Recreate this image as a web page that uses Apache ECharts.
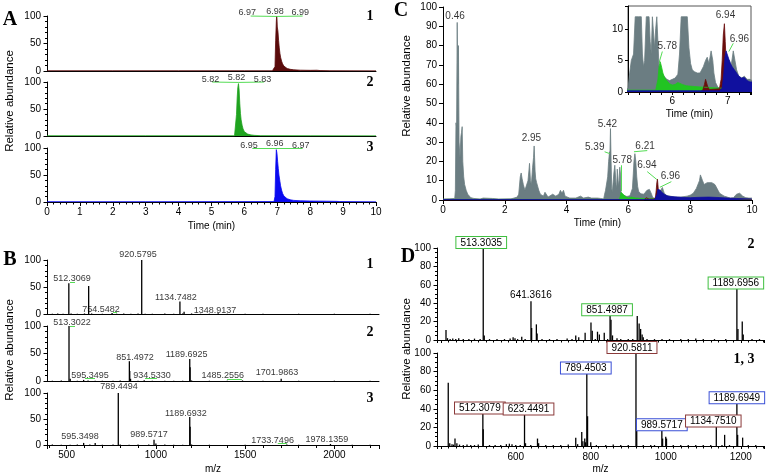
<!DOCTYPE html>
<html><head><meta charset="utf-8">
<script src="https://cdn.jsdelivr.net/npm/echarts@6/dist/echarts.min.js"></script>
<style>html,body{margin:0;padding:0;background:#fff}#c{width:768px;height:475px}</style>
</head><body><div id="c"></div>
<script>
// ---------- DATA ----------
// Panel A: extracted ion chromatograms [time (min), relative abundance]
const chromA1 = [[0,0.4],[2,0.4],[4,0.4],[6,0.4],[6.85,0.4],[6.9,1],[6.93,8],[6.95,55],[6.97,90],[6.98,100],[6.99,95],[7.0,80],[7.02,72],[7.04,55],[7.06,42],[7.08,32],[7.1,25],[7.13,18],[7.16,13],[7.2,9],[7.25,6],[7.3,4.5],[7.4,3],[7.5,2.2],[7.7,1.5],[8.0,1.2],[8.2,1.4],[8.3,0.8],[8.6,0.5],[10,0.4]];
const chromA2 = [[0,0.4],[3,0.4],[5.7,0.4],[5.74,3],[5.76,40],[5.78,70],[5.8,90],[5.82,97],[5.84,85],[5.86,60],[5.88,42],[5.9,30],[5.93,20],[5.96,13],[6.0,8],[6.05,5],[6.1,3.5],[6.2,2],[6.3,1.2],[6.5,0.6],[8,0.4],[10,0.4]];
const chromA3 = [[0,0.5],[3,0.5],[6.9,0.8],[6.93,10],[6.95,60],[6.97,97],[6.99,90],[7.01,75],[7.03,62],[7.05,50],[7.08,38],[7.1,30],[7.13,22],[7.16,16],[7.2,11],[7.25,8],[7.3,6],[7.4,4],[7.5,3],[7.7,2.2],[8,1.8],[8.5,1.5],[8.8,1.2],[8.9,0.8],[10,0.5]];
const peakLabA1 = [[6.09,106.7,'6.97'],[6.93,108.5,'6.98'],[7.70,105.5,'6.99']];
const peakLabA2 = [[4.97,105.5,'5.82'],[5.76,108.7,'5.82'],[6.55,105.5,'5.83']];
const peakLabA3 = [[6.14,105,'6.95'],[6.92,108.7,'6.96'],[7.71,105,'6.97']];
const leadA1 = [[6.19,99.9,6.98,99.2],[6.98,99.2,7.77,99.9]];
const leadA2 = [[5.02,99.9,5.81,99.2],[5.81,99.2,6.60,99.9]];
const leadA3 = [[6.24,99.5,6.96,98.8],[6.96,98.8,7.77,99.5]];

// Panel C: total ion chromatogram (grey) and EICs
const ticC = [[0,0.5],[0.2,0.6],[0.38,0.8],[0.4,5],[0.42,40],[0.44,38],[0.46,92],[0.48,60],[0.5,80],[0.52,30],[0.55,22],[0.58,33],[0.6,35],[0.62,38],[0.64,20],[0.67,12],[0.7,8],[0.75,5],[0.8,3],[0.85,2],[0.9,1.2],[1.0,0.8],[1.2,0.5],[1.3,1],[1.35,0.5],[1.6,0.8],[1.8,0.5],[2.2,0.6],[2.3,1],[2.4,1.5],[2.45,3],[2.5,12],[2.53,14],[2.56,11],[2.6,8],[2.65,5],[2.7,6],[2.75,10],[2.78,15],[2.8,19],[2.83,10],[2.86,8],[2.9,17],[2.93,22],[2.95,28],[2.98,15],[3.0,11],[3.03,9],[3.06,10],[3.1,5],[3.15,3],[3.2,2],[3.25,2],[3.3,4],[3.35,3],[3.4,1.5],[3.45,1],[3.55,3],[3.6,4],[3.65,2],[3.7,1],[3.75,3],[3.8,5],[3.85,3.5],[3.9,5],[3.95,2],[4.0,1.5],[4.1,1],[4.3,1],[4.45,2],[4.5,3],[4.55,1],[4.7,1.5],[4.8,1],[5.0,1],[5.1,0.8],[5.2,0.5],[5.23,3],[5.26,5],[5.3,6],[5.33,12],[5.36,20],[5.39,25],[5.4,22],[5.42,37],[5.44,20],[5.46,6],[5.48,4],[5.5,5],[5.53,14],[5.56,18],[5.58,17],[5.6,8],[5.62,6],[5.64,16],[5.66,15],[5.68,7],[5.7,10],[5.72,17],[5.74,14],[5.76,4],[5.78,2],[5.8,3],[5.82,3],[5.85,2.5],[5.9,2],[5.95,1.8],[6.0,2],[6.05,2.2],[6.1,2.8],[6.13,6],[6.16,14],[6.18,20],[6.21,24],[6.24,20],[6.27,12],[6.3,7],[6.33,4.5],[6.36,3.5],[6.4,3.2],[6.45,3],[6.5,3],[6.53,3.5],[6.56,4],[6.6,5],[6.63,5.5],[6.66,4.5],[6.68,5.5],[6.7,6.5],[6.73,5],[6.75,3],[6.78,1.5],[6.82,0.8],[6.86,0.5],[6.9,0.8],[6.95,2],[6.98,3],[7.0,4],[7.03,5],[7.06,4],[7.1,6.5],[7.13,5],[7.16,3.5],[7.2,2.5],[7.25,2.2],[7.3,2.5],[7.35,2],[7.4,2],[7.5,1.5],[7.7,1.5],[7.9,2],[8.0,2.5],[8.1,3.5],[8.2,6],[8.3,10],[8.33,13],[8.36,12],[8.4,10],[8.45,8],[8.5,8],[8.55,9],[8.6,9],[8.7,9],[8.8,8],[8.85,7],[8.9,5],[8.95,3.5],[9.0,2.5],[9.1,2],[9.2,1.5],[9.3,1],[9.4,1.2],[9.45,2],[9.5,3],[9.55,3.8],[9.6,3.5],[9.65,3],[9.7,2],[9.8,1.2],[9.9,1],[10,1]];
const eicC2 = [[0,0.3],[5.7,0.3],[5.72,0.6],[5.74,2],[5.76,4],[5.78,4.8],[5.8,4.2],[5.83,3],[5.86,2.3],[5.9,1.8],[5.95,1.3],[6.0,1.1],[6.05,1.2],[6.1,1.5],[6.13,1.6],[6.18,1.2],[6.25,1],[6.35,0.9],[6.5,0.8],[6.7,0.7],[6.9,0.6],[7.0,0.4],[7.5,0.3],[8,0.5],[9,0.4],[10,0.3]];
const eicC1 = [[0,0],[6.5,0],[6.55,0.3],[6.58,1.2],[6.6,2],[6.62,1.8],[6.64,0.8],[6.67,0.4],[6.85,0.5],[6.88,2],[6.9,5],[6.92,9],[6.94,10.8],[6.955,8],[6.97,5],[6.99,2],[7.02,0.8],[7.1,0.5],[7.5,0.4],[8.0,0.5],[8.5,0.6],[9,0.4],[9.5,0.5],[10,0.3]];
const eicC3 = [[0,0.2],[6.85,0.2],[6.9,0.6],[6.93,3],[6.95,5.5],[6.97,6.5],[6.99,6.2],[7.02,5.2],[7.05,4.5],[7.08,4],[7.12,3.5],[7.16,3],[7.2,2.5],[7.25,2.2],[7.3,2.3],[7.35,1.8],[7.4,1.6],[7.6,1.5],[7.8,1.3],[8.0,1.2],[8.3,1.4],[8.6,1.5],[8.9,1.3],[9.2,1.0],[9.5,0.8],[10,0.5]];
const peakLabC = [[0.39,95,'0.46'],[2.86,32,'2.95'],[5.32,39.4,'5.42'],[4.91,27.1,'5.39'],[6.54,28,'6.21'],[5.80,20.4,'5.78'],[6.60,17.8,'6.94'],[7.36,12.5,'6.96']];
const leadC = [[5.23,25,5.40,24],[6.18,25,6.61,25.6],[5.77,18,5.77,4.6],[6.61,14.7,6.92,10.6],[7.02,6.6,7.39,9.5]];
const peakLabCI = [[6.96,12.2,'6.94'],[7.21,8.4,'6.96'],[5.91,7.2,'5.78']];
const leadCI = [[7.02,6.4,7.10,7.7],[5.76,4.6,5.82,6.4]];
const insetClip = 11.9;

// Panel B: MS spectra [m/z, relative abundance]
const specB1 = [[420,0.5],[450,1],[480,0.5],[512.3,57],[525,1],[560,0.5],[600,1],[623.4,52],[640,1],[700,0.5],[754.5,2],[780,0.5],[820,1],[860,0.5],[900,1],[920.6,100],[940,0.5],[980,0.5],[1050,1],[1100,0.5],[1134.7,23],[1150,1],[1158,4],[1200,1],[1250,0.5],[1300,0.5],[1348.9,1.5],[1400,0.5],[1500,0.5],[1600,0.5],[1800,0.5],[2000,0.5],[2200,0.5]];
const specB2 = [[420,0.5],[470,1],[513.3,100],[520,4],[560,0.5],[595.3,2],[620,1],[660,0.5],[700,0.5],[760,0.5],[800,1],[851.5,36],[853.5,18],[858,4],[900,0.5],[934.5,1.5],[980,0.5],[1050,0.5],[1100,0.5],[1150,0.5],[1189.7,40],[1191.7,25],[1200,1],[1300,0.5],[1400,0.5],[1485.3,1],[1600,0.5],[1702,4],[1800,0.5],[2000,0.5],[2200,0.5]];
const specB3 = [[420,1],[470,0.5],[520,0.5],[560,1],[595.3,4],[630,1],[660,4],[700,0.5],[760,1],[789.4,100],[800,1],[850,0.5],[900,1],[960,1],[989.6,10],[1000,3],[1050,1],[1100,0.5],[1150,0.5],[1189.7,54],[1191.7,35],[1200,1],[1300,0.5],[1500,0.5],[1733.7,1],[1800,0.5],[1978.1,2],[2100,0.5],[2200,0.5]];
const labB1 = [[899.5,110.6,'920.5795'],[530,66,'512.3069'],[692,7.4,'754.5482'],[1112,30,'1134.7482'],[1331,6,'1348.9137']];
const labB2 = [[530,107,'513.3022'],[631,10.4,'595.3495'],[883,43.6,'851.4972'],[978,10.4,'934.5330'],[1172,48.5,'1189.6925'],[1375,10.4,'1485.2556'],[1678,15.3,'1701.9863']];
const labB3 = [[793,112,'789.4494'],[575,16,'595.3498'],[961,20.5,'989.5717'],[1168,61.5,'1189.6932'],[1654,8.8,'1733.7496'],[1958,11,'1978.1359']];
const markB1 = [[519,58,547,58],[760,2.4,782,2.4]];
const markB2 = [[519,99.5,547,99.5],[603,5.5,659,5.5],[939,5,1006,5],[1398,3,1482,3]];
const markB3 = [[1683,3.7,1734,3.7]];

// Panel D: MS/MS spectra [m/z, relative abundance]
const specD1 = [[414,11],[418,2],[425,1],[432,1.5],[440,1],[448,2],[460,1],[475,1],[490,1.5],[505,1],[513.3,100],[516,5],[530,1],[550,1],[570,1],[585,1.5],[593,3],[598,2],[605,1],[616,3.5],[625,1],[640.6,42],[642.4,13],[655,17],[657,7],[670,1],[690,1],[710,1],[737,1.5],[750,1],[760,5],[768,3],[785,8],[800.6,19],[804,10],[812,1],[818,9],[823,6],[836,8],[845,1],[851.5,27],[854,22],[858,5],[870,2],[880,1],[900,1],[912,1],[924,26],[929,18],[933,12],[937,6],[940,3],[950,1],[970,1],[990,1],[1010,1],[1040,1],[1060,1],[1080,1.5],[1100,1],[1130,1],[1160,1],[1189.7,56],[1192.5,12],[1204,20],[1206.6,6],[1230,1],[1250,1]];
const specD2 = [[420,68],[424,3],[430,2],[434,1.5],[438,8],[443,3],[450,1.5],[460,1],[470,1.5],[480,1],[490,1],[500,1.5],[512.3,35],[513.3,18],[530,1],[545,1],[560,1],[575,2],[583,2.5],[590,2],[600,1],[612,1],[623.4,34],[626,3],[640,1],[658,8],[661,3],[680,1],[700,1],[720,1],[740,1.5],[760,9],[765,2],[776,15],[779,5],[784,8],[786,4],[789.5,78],[791.5,32],[800,4],[815,1],[840,1],[860,1.5],[880,1],[900,1],[920.6,100],[922.6,18],[940,1],[960,1],[970,1],[989.6,17],[991.6,8],[1000,10],[1002,8],[1020,1],[1040,1],[1060,1],[1080,1],[1100,1],[1120,1],[1134.8,21],[1150,1],[1157,12],[1170,1],[1189.7,46],[1191.7,12],[1205,9],[1220,1],[1240,1]];
// [m/z of peak, label text, box colour key, x offset]
const labD1 = [[513.3,'513.3035','g',-2],[640.6,'641.3616','',0],[851.5,'851.4987','g',-3],[1189.7,'1189.6956','g',-1]];
const labD2 = [[512.3,'512.3079','r',-3],[623.4,'623.4491','r',4],[789.5,'789.4503','b',-1],[920.6,'920.5811','r',-4],[989.6,'989.5717','b',0],[1134.8,'1134.7510','r',-3],[1189.7,'1189.6949','b',0]];

// ---------- STYLE ----------
const SANS = 'Liberation Sans, Arial, sans-serif';
const SERIF = 'Liberation Serif, Times New Roman, serif';
const LEAD = '#55dd55';
const BOX = {g:'#3fbf3f', r:'#8b3a3a', b:'#3a4fd6'};
const COL = {a1:'#5a0b0b', a2:'#1fa31f', a3:'#0a0af0', gray:'#6b7d82', cg:'#22c422', cr:'#6a0d0d', cb:'#10109e'};

function merge(a,b){for(const k in b){const v=b[k];if(v&&typeof v==='object'&&!Array.isArray(v)&&a[k]&&typeof a[k]==='object'&&typeof v!=='function')merge(a[k],v);else a[k]=v;}return a;}
function ax(o){
  return merge({
    type:'value', splitLine:{show:false},
    axisLine:{show:true,onZero:false,lineStyle:{color:'#000',width:1}},
    axisTick:{show:true,length:4,lineStyle:{color:'#000',width:1}},
    minorTick:{show:false,length:2.5,lineStyle:{color:'#000',width:1}},
    axisLabel:{show:true,color:'#000',fontSize:10,fontFamily:SANS,margin:5},
    nameTextStyle:{color:'#000',fontSize:10,fontFamily:SANS}
  },o);
}
const intOnly = v => Math.abs(v-Math.round(v))<1e-6 ? String(Math.round(v)) : '';

const grids = [
  {left:47,top:16,width:329,height:55},
  {left:47,top:82,width:329,height:54},
  {left:47,top:148,width:329,height:54},
  {left:443,top:7,width:309,height:193},
  {left:628,top:6,width:123,height:86,show:true,backgroundColor:'#fff',borderColor:'#555',borderWidth:1},
  {left:47,top:260,width:332,height:54},
  {left:47,top:326,width:332,height:55},
  {left:47,top:393,width:332,height:54},
  {left:437,top:248,width:327,height:92},
  {left:437,top:353,width:327,height:93}
];

const xAxis = [
  ax({gridIndex:0,min:0,max:10,interval:1,axisTick:{show:false},axisLabel:{show:false}}),
  ax({gridIndex:1,min:0,max:10,interval:1,axisTick:{show:false},axisLabel:{show:false}}),
  ax({gridIndex:2,min:0,max:10,interval:1,minorTick:{show:true,splitNumber:5},name:'Time (min)',nameLocation:'middle',nameGap:19}),
  ax({gridIndex:3,min:0,max:10,interval:2,name:'Time (min)',nameLocation:'middle',nameGap:18}),
  ax({gridIndex:4,min:5.2,max:7.42,interval:0.2,axisTick:{length:3},axisLabel:{formatter:intOnly,margin:4},name:'Time (min)',nameLocation:'middle',nameGap:17}),
  ax({gridIndex:5,min:390,max:2250,splitNumber:4,axisTick:{show:false},axisLabel:{show:false}}),
  ax({gridIndex:6,min:390,max:2250,splitNumber:4,axisTick:{show:false},axisLabel:{show:false}}),
  ax({gridIndex:7,min:390,max:2250,splitNumber:4,minorTick:{show:true,splitNumber:5,length:3},axisLabel:{formatter:v=>(v%500===0&&v>=500)?String(v):''},name:'m/z',nameLocation:'middle',nameGap:19}),
  ax({gridIndex:8,min:390,max:1262,splitNumber:5,axisTick:{length:3},minorTick:{show:true,splitNumber:10,length:2.5},axisLabel:{show:false}}),
  ax({gridIndex:9,min:390,max:1262,splitNumber:5,axisTick:{length:3},minorTick:{show:true,splitNumber:10,length:2.5},axisLabel:{formatter:v=>(v%200===0&&v>=600)?String(v):'',margin:6},name:'m/z',nameLocation:'middle',nameGap:18})
];
const yA = i => ax({gridIndex:i,min:0,max:100,interval:50,axisTick:{length:3.5},minorTick:{show:true,splitNumber:5,length:2},axisLabel:{margin:6}});
const yAxis = [
  yA(0), yA(1), yA(2),
  ax({gridIndex:3,min:0,max:100,interval:10,axisLabel:{margin:6}}),
  ax({gridIndex:4,min:0,max:13.6,interval:5,axisTick:{length:3},axisLabel:{formatter:v=>(v%5===0)?String(v):'',margin:5}}),
  yA(5), yA(6), yA(7),
  ax({gridIndex:8,min:0,max:100,interval:20,axisTick:{length:3.5},minorTick:{show:true,splitNumber:4,length:2},axisLabel:{margin:6}}),
  ax({gridIndex:9,min:0,max:100,interval:20,axisTick:{length:3.5},minorTick:{show:true,splitNumber:4,length:2},axisLabel:{margin:6}})
];

function area(i,data,color,z){
  return {type:'line',xAxisIndex:i,yAxisIndex:i,data:data,showSymbol:false,symbol:'none',silent:true,z:z||2,
    lineStyle:{color:color,width:0.8},areaStyle:{color:color,opacity:1}};
}
function texts(i,arr,fs,leads){
  const s = {type:'scatter',xAxisIndex:i,yAxisIndex:i,symbolSize:0,clip:false,silent:true,z:6,
    data:arr.map(d=>({value:[d[0],d[1]],name:d[2]})),
    label:{show:true,position:'inside',formatter:'{b}',color:'#000',fontSize:fs,fontFamily:SANS}};
  if(leads) s.markLine = {silent:true,symbol:'none',animation:false,precision:4,
    lineStyle:{color:LEAD,width:1,type:'solid'},label:{show:false},
    data:leads.map(l=>[{coord:[l[0],l[1]]},{coord:[l[2],l[3]]}])};
  return s;
}
function sticks(i,data,labs){
  const items = data.map(d=>{
    const it = {value:d};
    const L = labs && labs.find(l=>l[0]===d[0]);
    if(L){
      it.label = {show:true,position:'top',distance:0,formatter:L[1],color:'#000',fontSize:10,fontFamily:SANS,offset:[L[3],0]};
      if(L[2]) Object.assign(it.label,{backgroundColor:'#fff',borderColor:BOX[L[2]],borderWidth:1,padding:[1,4,0,4]});
      else it.label.padding=[0,0,1,0];
    }
    return it;
  });
  return {type:'bar',xAxisIndex:i,yAxisIndex:i,data:items,barWidth:1.3,silent:true,z:3,
    itemStyle:{color:'#000'},label:{show:false}};
}

const series = [
  area(0,chromA1,COL.a1), texts(0,peakLabA1,9,leadA1),
  area(1,chromA2,COL.a2), texts(1,peakLabA2,9,leadA2),
  area(2,chromA3,COL.a3), texts(2,peakLabA3,9,leadA3),
  area(3,ticC,COL.gray,2), area(3,eicC2,COL.cg,3), area(3,eicC1,COL.cr,3), area(3,eicC3,COL.cb,4), texts(3,peakLabC,10,leadC),
  area(4,ticC.map(p=>[p[0],Math.min(p[1],insetClip)]),COL.gray,7), area(4,eicC2,COL.cg,8), area(4,eicC1,COL.cr,8), area(4,eicC3,COL.cb,9),
  Object.assign(texts(4,peakLabCI,10,leadCI),{z:10}),
  sticks(5,specB1), texts(5,labB1,9,markB1),
  sticks(6,specB2), texts(6,labB2,9,markB2),
  sticks(7,specB3), texts(7,labB3,9,markB3),
  sticks(8,specD1,labD1),
  sticks(9,specD2,labD2)
];

function gtext(x,y,t,font,rot){
  return {type:'text',x:x,y:y,rotation:rot||0,silent:true,z:20,
    style:{text:t,font:font,fill:'#000',textAlign:'center',align:'center',textVerticalAlign:'middle',verticalAlign:'middle'}};
}
const F_LET = 'bold 20px ' + SERIF, F_NUM = 'bold 14px ' + SERIF, F_Y = '11.5px ' + SANS;
const graphic = [
  gtext(10,20,'A',F_LET), gtext(10,260,'B',F_LET), gtext(401,11,'C',F_LET), gtext(408,257,'D',F_LET),
  gtext(370,16,'1',F_NUM), gtext(370,82,'2',F_NUM), gtext(370,147,'3',F_NUM),
  gtext(370,264,'1',F_NUM), gtext(370,332,'2',F_NUM), gtext(370,398,'3',F_NUM),
  gtext(751,244,'2',F_NUM), gtext(744,359,'1, 3',F_NUM),
  gtext(10,101,'Relative abundance',F_Y,Math.PI/2),
  gtext(10,350,'Relative abundance',F_Y,Math.PI/2),
  gtext(407,86,'Relative abundance',F_Y,Math.PI/2),
  gtext(407,349,'Relative abundance',F_Y,Math.PI/2)
];

const chart = echarts.init(document.getElementById('c'),null,{renderer:'canvas',width:768,height:475});
chart.setOption({animation:false,backgroundColor:'#fff',grid:grids,xAxis:xAxis,yAxis:yAxis,series:series,graphic:graphic});
</script></body></html>
